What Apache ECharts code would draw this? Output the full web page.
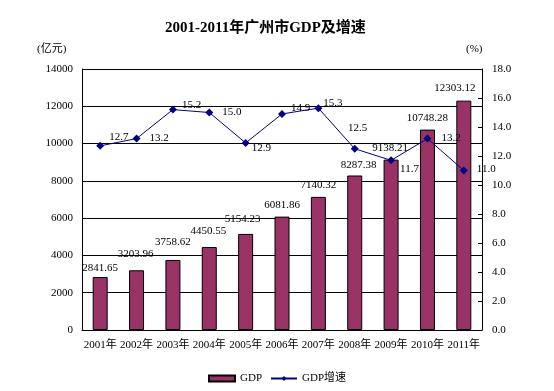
<!DOCTYPE html>
<html>
<head>
<meta charset="utf-8">
<script src="https://cdn.jsdelivr.net/npm/echarts@6/dist/echarts.min.js"></script>
<style>html,body{margin:0;padding:0;background:#fff}#c{width:554px;height:391px}</style>
</head>
<body>
<div id="c"></div>
<script>
var categories = ['2001年','2002年','2003年','2004年','2005年','2006年','2007年','2008年','2009年','2010年','2011年'];
var gdpValues = [2841.65, 3203.96, 3758.62, 4450.55, 5154.23, 6081.86, 7140.32, 8287.38, 9138.21, 10748.28, 12303.12];
var growthValues = [12.7, 13.2, 15.2, 15.0, 12.9, 14.9, 15.3, 12.5, 11.7, 13.2, 11.0];
var leftTicks = {min: 0, max: 14000, interval: 2000};
var rightTicks = {min: 0, max: 18, interval: 2};

var FONT = "'Liberation Serif', 'Noto Sans CJK SC', serif";

// label layout tweaks (styling, kept apart from data)
var barLabelOffsets = [[0,2],[-1,-6],[0,-7],[-1,-5],[-3,-4],[0,-1],[0,-1],[4,0],[-1,-1],[0,-1],[-9,-2]];
var lineLabelPos = ['right','right','right','right','right','right','right','top','right','right','right'];
var lineLabelOffsets = [[0,-9],[4,0],[0,-4],[4,0],[-3,5],[0,-6],[-4,-5],[3,-6],[0,9],[5,0],[4,-1]];

var barData = gdpValues.map(function(v, i){
  return {value: v, label: {offset: barLabelOffsets[i]}};
});
var lineData = growthValues.map(function(v, i){
  return {value: v, label: {position: lineLabelPos[i], offset: lineLabelOffsets[i]}};
});

var chart = echarts.init(document.getElementById('c'));
chart.setOption({
  animation: false,
  textStyle: {fontFamily: FONT},
  title: {
    text: '2001-2011年广州市GDP及增速',
    left: 160, top: 16,
    textStyle: {fontFamily: FONT, fontSize: 15, fontWeight: 'bold', color: '#000'}
  },
  graphic: [
    {type: 'text', left: 37, top: 44, style: {text: '(亿元)', font: '11px ' + FONT, fill: '#000'}},
    {type: 'text', left: 466, top: 44, style: {text: '(%)', font: '11px ' + FONT, fill: '#000'}}
  ],
  legend: {
    left: 'center', top: 368,
    itemWidth: 26, itemHeight: 6, itemGap: 8,
    textStyle: {fontFamily: FONT, fontSize: 11, color: '#000'},
    data: [{name: 'GDP', icon: 'rect'}, {name: 'GDP增速'}]
  },
  grid: {left: 82, right: 72, top: 69, bottom: 61},
  xAxis: {
    type: 'category',
    data: categories,
    axisLine: {lineStyle: {color: '#000', width: 1}},
    axisTick: {inside: true, length: 4, lineStyle: {color: '#000'}},
    axisLabel: {color: '#000', fontSize: 11, fontFamily: FONT, margin: 10, interval: 0}
  },
  yAxis: [
    {
      type: 'value', min: leftTicks.min, max: leftTicks.max, interval: leftTicks.interval,
      axisLine: {show: true, lineStyle: {color: '#000'}},
      axisTick: {show: false},
      axisLabel: {color: '#000', fontSize: 11, fontFamily: FONT, margin: 9,
        formatter: function(v){ return String(v); }},
      splitLine: {show: true, lineStyle: {color: '#000', width: 1}}
    },
    {
      type: 'value', min: rightTicks.min, max: rightTicks.max, interval: rightTicks.interval,
      position: 'right',
      axisLine: {show: true, lineStyle: {color: '#000'}},
      axisTick: {show: true, inside: true, length: 4, lineStyle: {color: '#000'}},
      axisLabel: {color: '#000', fontSize: 11, fontFamily: FONT, margin: 10,
        formatter: function(v){ return v.toFixed(1); }},
      splitLine: {show: false}
    }
  ],
  series: [
    {
      name: 'GDP', type: 'bar', yAxisIndex: 0,
      data: barData,
      barWidth: 15,
      itemStyle: {color: '#993366', borderColor: '#000', borderWidth: 1},
      label: {show: true, position: 'top', distance: 5, color: '#000', fontSize: 11, fontFamily: FONT,
        formatter: function(p){ return p.value.toFixed(2); }}
    },
    {
      name: 'GDP增速', type: 'line', yAxisIndex: 1,
      data: lineData,
      symbol: 'diamond', symbolSize: 8,
      lineStyle: {color: '#000080', width: 1},
      itemStyle: {color: '#000080'},
      label: {show: true, position: 'right', distance: 5, color: '#000', fontSize: 11, fontFamily: FONT,
        formatter: function(p){ return p.value.toFixed(1); }},
      z: 5
    }
  ]
});
</script>
</body>
</html>
